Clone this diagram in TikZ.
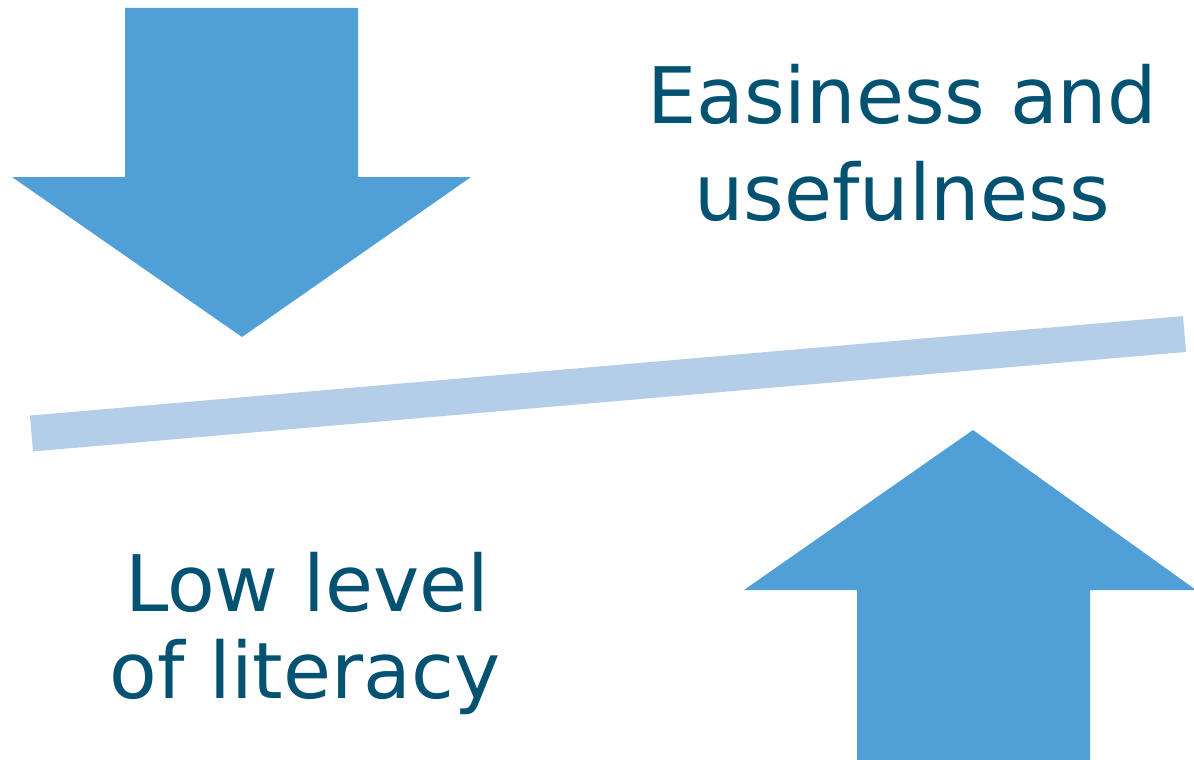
\documentclass[tikz,border=0pt]{standalone}
\usepackage{fontspec}
\setmainfont{DejaVu Sans}
\definecolor{arrowblue}{HTML}{519FD7}
\definecolor{barblue}{HTML}{B4CDE8}
\definecolor{textteal}{HTML}{035272}
\begin{document}
\begin{tikzpicture}[x=1pt,y=-1pt,
  arrowshape/.style={fill=arrowblue,draw=none},
  label/.style={text=textteal,font=\fontsize{78}{94}\selectfont,anchor=base,inner sep=0pt}]
\useasboundingbox (0,0) rectangle (1194,760);
% down arrow
\fill[arrowshape] (125,8) -- (358,8) -- (358,177) -- (471,177) -- (242,337) -- (12,177) -- (125,177) -- cycle;
% up arrow
\fill[arrowshape] (857,760) -- (1090,760) -- (1090,590) -- (1196,590) -- (973,430) -- (744,590) -- (857,590) -- cycle;
% tilted bar
\coordinate (barL) at (31.5,433.5);
\coordinate (barR) at (1184.5,334);
\draw[barblue,line width=36pt] (barL) -- (barR);
% texts
\node[label] (t1) at (902,123) {Easiness and};
\node[label] (t2) at (902,220) {usefulness};
\node[label] (t3) at (307,611) {Low level};
\node[label] (t4) at (305,698) {of literacy};
\end{tikzpicture}
\end{document}
